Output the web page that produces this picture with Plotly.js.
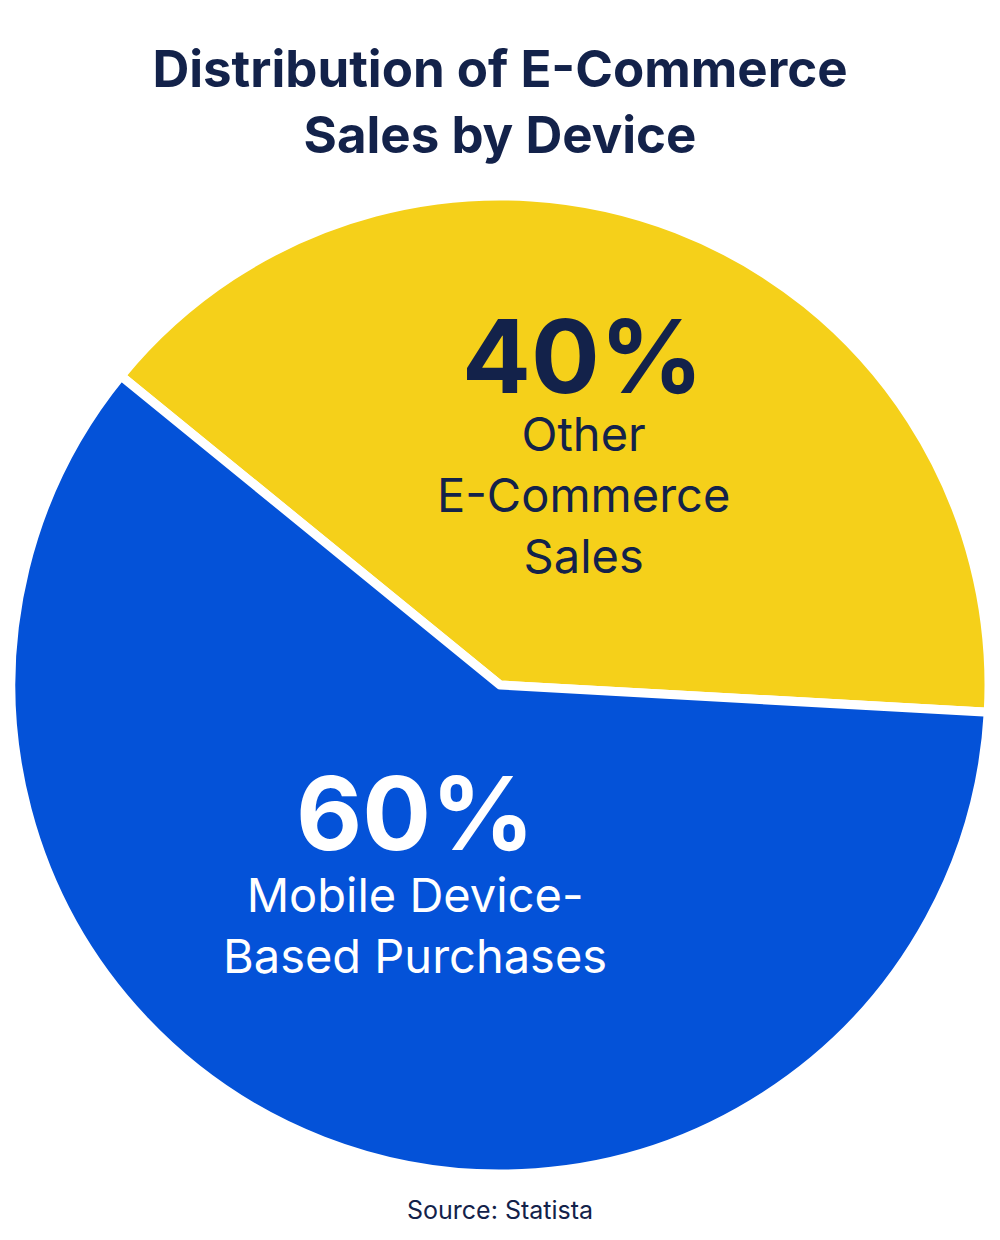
<!DOCTYPE html>
<html>
<head>
<meta charset="utf-8">
<script src="https://cdn.plot.ly/plotly-3.0.1.min.js"></script>
<style>
  html, body { margin: 0; padding: 0; background: #fff; }
  #chart { width: 1000px; height: 1240px; }
</style>
</head>
<body>
<div id="chart"></div>
<script>
// data
const categories = ['Other E-Commerce Sales', 'Mobile Device-Based Purchases'];
const shares = [40, 60];
const sliceLabels = ['Other<br>E-Commerce<br>Sales', 'Mobile Device-<br>Based Purchases'];
const sliceColors = ['#F5D01A', '#0452D8'];
const labelColors = ['#13224A', '#FFFFFF'];

const NAVY = '#13224A';
const FONT = 'Inter, "Noto Sans", "DejaVu Sans", sans-serif';

const trace = {
  type: 'pie',
  labels: categories,
  values: shares,
  sort: false,
  direction: 'clockwise',
  rotation: -50.8,
  marker: { colors: sliceColors, line: { color: '#ffffff', width: 9 } },
  textinfo: 'none',
  hoverinfo: 'label+percent',
  domain: { x: [0.011, 0.989], y: [0.0532, 0.842] },
  showlegend: false
};

// label positions inside each slice (paper coords)
const pctPos = [[0.582, 0.713], [0.415, 0.344]];
const namePos = [[0.583, 0.601], [0.415, 0.254]];

const annotations = [];
shares.forEach((v, i) => {
  annotations.push({
    text: '<b>' + v + '%</b>',
    x: pctPos[i][0], y: pctPos[i][1], xref: 'paper', yref: 'paper',
    showarrow: false, xanchor: 'center', yanchor: 'middle',
    font: { family: FONT, size: 102, color: labelColors[i] }
  });
  annotations.push({
    text: sliceLabels[i],
    x: namePos[i][0], y: namePos[i][1], xref: 'paper', yref: 'paper',
    showarrow: false, xanchor: 'center', yanchor: 'middle',
    font: { family: FONT, size: 47, color: labelColors[i] }
  });
});
annotations.push({
  text: 'Source: Statista',
  x: 0.5, y: 1 - 1210 / 1240, xref: 'paper', yref: 'paper',
  showarrow: false, xanchor: 'center', yanchor: 'middle',
  font: { family: FONT, size: 25, color: NAVY }
});

const layout = {
  width: 1000,
  height: 1240,
  margin: { l: 0, r: 0, t: 0, b: 0 },
  paper_bgcolor: '#ffffff',
  title: {
    text: '<b>Distribution of E-Commerce<br>Sales by Device</b>',
    x: 0.5, xanchor: 'center',
    y: 1 - 87 / 1240, yanchor: 'middle',
    font: { family: FONT, size: 51, color: NAVY }
  },
  annotations: annotations
};

Plotly.newPlot('chart', [trace], layout, { displayModeBar: false, staticPlot: true });
</script>
</body>
</html>
